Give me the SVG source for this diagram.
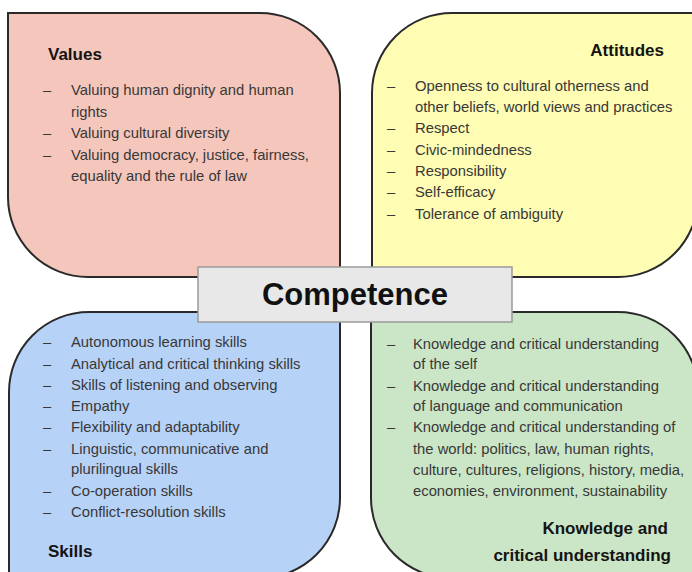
<svg xmlns="http://www.w3.org/2000/svg" width="692" height="572" viewBox="0 0 692 572">
<style>
.box{stroke:#2a2a2a;stroke-width:2}
.t{font-family:"Liberation Sans",Arial,sans-serif;font-size:14.8px;fill:#383838}
.h{font-family:"Liberation Sans",Arial,sans-serif;font-size:17px;font-weight:bold;fill:#141414}
.c{font-family:"Liberation Sans",Arial,sans-serif;font-size:31px;font-weight:bold;fill:#111;text-anchor:middle}
.r{text-anchor:end}
</style>
<rect width="692" height="572" fill="#ffffff"/>
<g id="values">
<path class="box" fill="#f5c7bc" d="M8,13 H260 A80,80 0 0 1 340,93 V277 H88 A80,80 0 0 1 8,197 Z"/>
<text class="h" x="48" y="60">Values</text>
<text class="t" x="43" y="95">–</text><text class="t" x="71" y="95">Valuing human dignity and human</text>
<text class="t" x="71" y="116.5">rights</text>
<text class="t" x="43" y="138">–</text><text class="t" x="71" y="138">Valuing cultural diversity</text>
<text class="t" x="43" y="159.5">–</text><text class="t" x="71" y="159.5">Valuing democracy, justice, fairness,</text>
<text class="t" x="71" y="181">equality and the rule of law</text>
</g>
<g id="attitudes">
<path class="box" fill="#fffcb3" d="M372,93 A80,80 0 0 1 452,13 H698 V197 A80,80 0 0 1 618,277 H372 Z"/>
<text class="h r" x="664" y="56">Attitudes</text>
<text class="t" x="387" y="91">–</text><text class="t" x="415" y="91">Openness to cultural otherness and</text>
<text class="t" x="415" y="112">other beliefs, world views and practices</text>
<text class="t" x="387" y="133">–</text><text class="t" x="415" y="133">Respect</text>
<text class="t" x="387" y="154.5">–</text><text class="t" x="415" y="154.5">Civic-mindedness</text>
<text class="t" x="387" y="176">–</text><text class="t" x="415" y="176">Responsibility</text>
<text class="t" x="387" y="197">–</text><text class="t" x="415" y="197">Self-efficacy</text>
<text class="t" x="387" y="218.5">–</text><text class="t" x="415" y="218.5">Tolerance of ambiguity</text>
</g>
<g id="skills">
<path class="box" fill="#b7d2f7" d="M9,392 A80,80 0 0 1 89,312 H340 V498 A80,80 0 0 1 260,578 H9 Z"/>
<text class="t" x="43" y="347">–</text><text class="t" x="71" y="347">Autonomous learning skills</text>
<text class="t" x="43" y="369">–</text><text class="t" x="71" y="369">Analytical and critical thinking skills</text>
<text class="t" x="43" y="390">–</text><text class="t" x="71" y="390">Skills of listening and observing</text>
<text class="t" x="43" y="411">–</text><text class="t" x="71" y="411">Empathy</text>
<text class="t" x="43" y="432">–</text><text class="t" x="71" y="432">Flexibility and adaptability</text>
<text class="t" x="43" y="454">–</text><text class="t" x="71" y="454">Linguistic, communicative and</text>
<text class="t" x="71" y="474">plurilingual skills</text>
<text class="t" x="43" y="496">–</text><text class="t" x="71" y="496">Co-operation skills</text>
<text class="t" x="43" y="517">–</text><text class="t" x="71" y="517">Conflict-resolution skills</text>
<text class="h" x="48" y="557">Skills</text>
</g>
<g id="knowledge">
<path class="box" fill="#cbe6c6" d="M371,312 H618 A80,80 0 0 1 698,392 V578 H451 A80,80 0 0 1 371,498 Z"/>
<text class="t" x="387" y="349">–</text><text class="t" x="413" y="349">Knowledge and critical understanding</text>
<text class="t" x="413" y="369">of the self</text>
<text class="t" x="387" y="391">–</text><text class="t" x="413" y="391">Knowledge and critical understanding</text>
<text class="t" x="413" y="411">of language and communication</text>
<text class="t" x="387" y="432">–</text><text class="t" x="413" y="432">Knowledge and critical understanding of</text>
<text class="t" x="413" y="454">the world: politics, law, human rights,</text>
<text class="t" x="413" y="475">culture, cultures, religions, history, media,</text>
<text class="t" x="413" y="496">economies, environment, sustainability</text>
<text class="h r" x="668" y="534">Knowledge and</text>
<text class="h r" x="671" y="561">critical understanding</text>
</g>
<g id="competence">
<rect x="198" y="267" width="314" height="55" fill="#e8e8e8" stroke="#9a9a9a" stroke-width="1.5"/>
<text class="c" x="355" y="305">Competence</text>
</g>
<g id="connectors"></g>
</svg>
